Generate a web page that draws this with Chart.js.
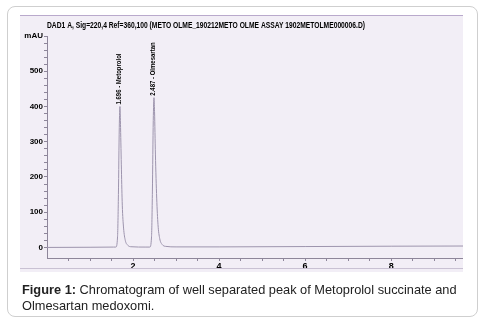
<!DOCTYPE html>
<html>
<head>
<meta charset="utf-8">
<script src="https://cdn.jsdelivr.net/npm/chart.js@4"></script>
<style>
  body { margin: 0; background: #fff; width: 486px; height: 321px; overflow: hidden; font-family: "Liberation Sans", Arial, sans-serif; }
  .frame { position: absolute; left: 7px; top: 6px; width: 469px; height: 309px; border: 1px solid #cfcfcf; border-radius: 8px; }
  .scan { position: absolute; left: 20px; top: 15px; width: 443px; height: 257px; background: #f2eef6; border-top: 1px solid #b9a9cc; box-sizing: border-box; }
  .scanline { position: absolute; left: 20px; top: 268px; width: 443px; height: 1px; background: #c9c1d3; }
  canvas { position: absolute; left: 0; top: 0; }
  .caption { position: absolute; left: 22px; top: 282px; width: 450px; font-size: 12.8px; line-height: 16px; color: #222; }
  .caption b { font-weight: bold; }
</style>
</head>
<body>
<div class="frame"></div>
<div class="scan"><canvas id="myChart" width="443" height="256"></canvas></div>
<div class="scanline"></div>
<div class="caption"><b>Figure 1:</b> Chromatogram of well separated peak of Metoprolol succinate and Olmesartan medoxomi.</div>

<script>
// Chromatogram values (time in min, signal in mAU)
const timeMin = [0, 1.0, 1.55, 1.60, 1.64, 1.66, 1.68, 1.696, 1.71, 1.73, 1.75, 1.78, 1.82, 1.88, 1.95,
                 2.30, 2.39, 2.43, 2.45, 2.47, 2.487, 2.50, 2.52, 2.55, 2.58, 2.62, 2.68, 2.76, 3.0, 4.0, 6.0, 8.0, 9.67];
const signalMAU = [0, 0.5, 1, 1, 30, 150, 340, 400, 340, 220, 120, 55, 20, 6, 2,
                   1, 1, 30, 160, 360, 425, 385, 265, 140, 65, 25, 8, 3, 1.5, 1.5, 2.5, 3.5, 4];

// peak annotations
const peakTimes = [1.696, 2.487];
const peakHeights = [400, 425];
const peakNames = ['1.696 - Metoprolol', '2.487 - Olmesartan'];

const yTickValues = [0, 100, 200, 300, 400, 500, 600];
const xTickLabels = [2, 4, 6, 8];

const titleText = 'DAD1 A, Sig=220,4 Ref=360,100 (METO OLME_190212METO OLME ASSAY 1902METOLME000006.D)';

let points = timeMin.map((t, i) => ({ x: t, y: signalMAU[i] }));

// draws the header line and the rotated peak labels
const chemLabels = {
    id: 'chemLabels',
    afterDraw(chart) {
        const ctx = chart.ctx;
        const xs = chart.scales.x;
        const ys = chart.scales.y;
        ctx.save();
        ctx.fillStyle = '#000';
        ctx.font = 'bold 8px "Liberation Sans", Arial';
        ctx.textBaseline = 'middle';
        let w = ctx.measureText(titleText).width;
        ctx.save();
        ctx.translate(27, 10);
        ctx.scale(318 / w, 1.1);
        ctx.fillText(titleText, 0, 0);
        ctx.restore();

        for (let i = 0; i < peakTimes.length; i++) {
            let px = xs.getPixelForValue(peakTimes[i]) - 1;
            let py = ys.getPixelForValue(peakHeights[i]) - 2;
            ctx.save();
            ctx.translate(px, py);
            ctx.rotate(-Math.PI / 2);
            ctx.scale(0.75, 1);
            ctx.textAlign = 'left';
            ctx.fillText(peakNames[i], 0, 0);
            ctx.restore();
        }
        ctx.restore();
    }
};

const axisColor = '#8e869a';

const myChart = document.getElementById('myChart');

let chromChart = new Chart(myChart, {
    type: 'line',
    data: {
        datasets: [{
            data: points,
            borderColor: '#9d94ad',
            borderWidth: 1,
            pointRadius: 0,
            fill: false,
            cubicInterpolationMode: 'monotone'
        }]
    },
    options: {
        responsive: false,
        animation: false,
        layout: { padding: { top: 20, right: 0, left: 0, bottom: 0 } },
        plugins: {
            legend: { display: false },
            tooltip: { enabled: false },
            title: { display: false }
        },
        scales: {
            x: {
                type: 'linear',
                min: 0,
                max: 9.67,
                afterFit(scale) { scale.height = 14; },
                afterBuildTicks(scale) {
                    let t = [];
                    for (let v = 0.5; v <= 9.5; v += 0.5) t.push({ value: v });
                    scale.ticks = t;
                },
                ticks: {
                    autoSkip: false,
                    maxRotation: 0,
                    padding: 0,
                    color: '#000',
                    font: { size: 9, weight: 'bold', family: '"Liberation Sans", Arial' },
                    callback: v => xTickLabels.includes(v) ? String(v) : ''
                },
                grid: { drawOnChartArea: false, tickLength: 3, color: axisColor },
                border: { color: axisColor, width: 1 }
            },
            y: {
                min: -30,
                max: 600,
                afterFit(scale) { scale.width = 27; },
                afterBuildTicks(scale) {
                    let t = [];
                    for (let v = 0; v <= 600; v += 20) t.push({ value: v });
                    scale.ticks = t;
                },
                ticks: {
                    autoSkip: false,
                    padding: 1,
                    color: '#000',
                    font: { size: 8, weight: 'bold', family: '"Liberation Sans", Arial' },
                    callback: v => yTickValues.includes(v) ? (v === 600 ? 'mAU' : String(v)) : ''
                },
                grid: { drawOnChartArea: false, tickLength: 3, color: axisColor },
                border: { color: axisColor, width: 1 }
            }
        }
    },
    plugins: [chemLabels]
});
</script>
</body>
</html>
